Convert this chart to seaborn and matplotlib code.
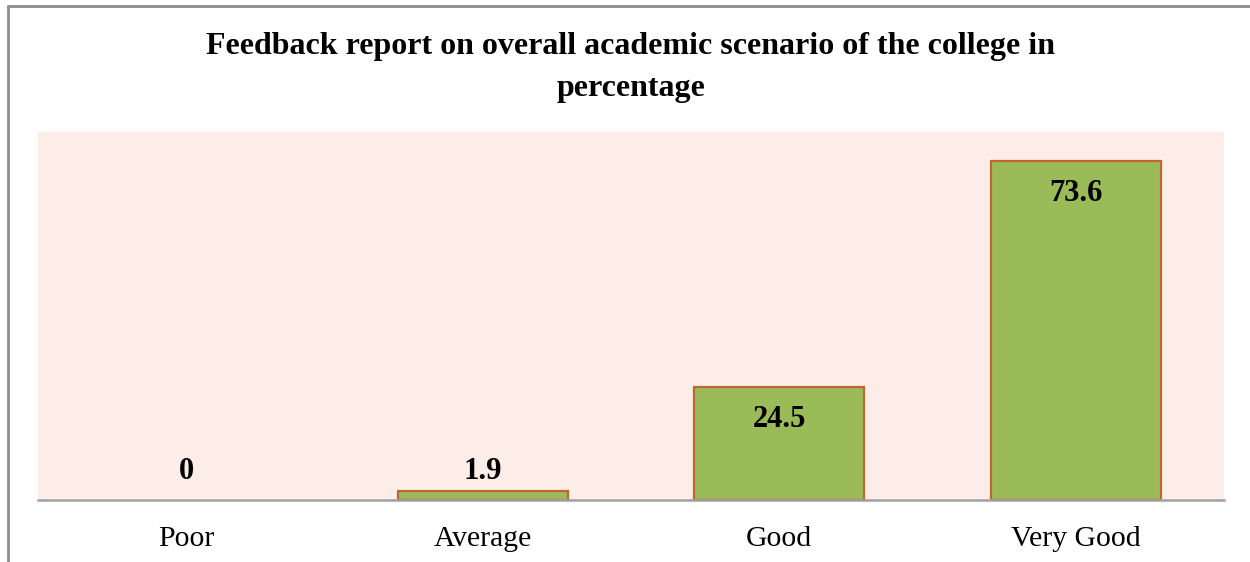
import matplotlib
matplotlib.use("Agg")
import matplotlib.pyplot as plt
from matplotlib.lines import Line2D
import seaborn as sns

categories = ["Poor", "Average", "Good", "Very Good"]
values = [0, 1.9, 24.5, 73.6]
title_lines = ["Feedback report on overall academic scenario of the college in", "percentage"]

sns.set_style("white")
plt.rcParams["font.family"] = ["Liberation Serif", "DejaVu Serif"]
plt.rcParams["text.color"] = "black"
plt.rcParams["xtick.color"] = "black"

W, H = 1250, 562
fig = plt.figure(figsize=(W / 100, H / 100), dpi=100)
ax = fig.add_axes([38 / W, (H - 500) / H, (1224 - 38) / W, (500 - 132) / H])
ax.set_facecolor("#FCEDE9")

sns.barplot(x=categories, y=values, color="#9BBB59", saturation=1,
            edgecolor="#C0662F", linewidth=1.6, width=0.574, ax=ax)
for p in ax.patches:
    if p.get_height() == 0:
        p.set_linewidth(0)

ax.set_ylim(0, 80)
ax.set_xlim(-0.5, 3.5)
ax.set_yticks([])
ax.set_xlabel("")
ax.set_ylabel("")
for s in ["top", "left", "right"]:
    ax.spines[s].set_visible(False)
ax.spines["bottom"].set_color("#A0A0A0")
ax.spines["bottom"].set_linewidth(1.8)
ax.tick_params(axis="x", length=0, pad=19, labelsize=21.3, labelcolor="black")

for i, v in enumerate(values):
    ax.text(i, max(v - 6.9, 6.1), f"{v:g}", ha="center", va="center",
            fontsize=22, fontweight="bold", color="black")

fig.text(631 / W, 1 - 54 / H, title_lines[0], ha="center", va="baseline",
         fontsize=23, fontweight="bold", color="black")
fig.text(631 / W, 1 - 96 / H, title_lines[1], ha="center", va="baseline",
         fontsize=23, fontweight="bold", color="black")

# outer chart border (left and top only visible)
fig.add_artist(Line2D([8 / W, 8 / W], [0, 1 - 6 / H], transform=fig.transFigure,
                      color="#8C8C8C", lw=2))
fig.add_artist(Line2D([8 / W, 1], [1 - 6 / H, 1 - 6 / H], transform=fig.transFigure,
                      color="#8C8C8C", lw=2))

fig.savefig("out.png", dpi=100)
